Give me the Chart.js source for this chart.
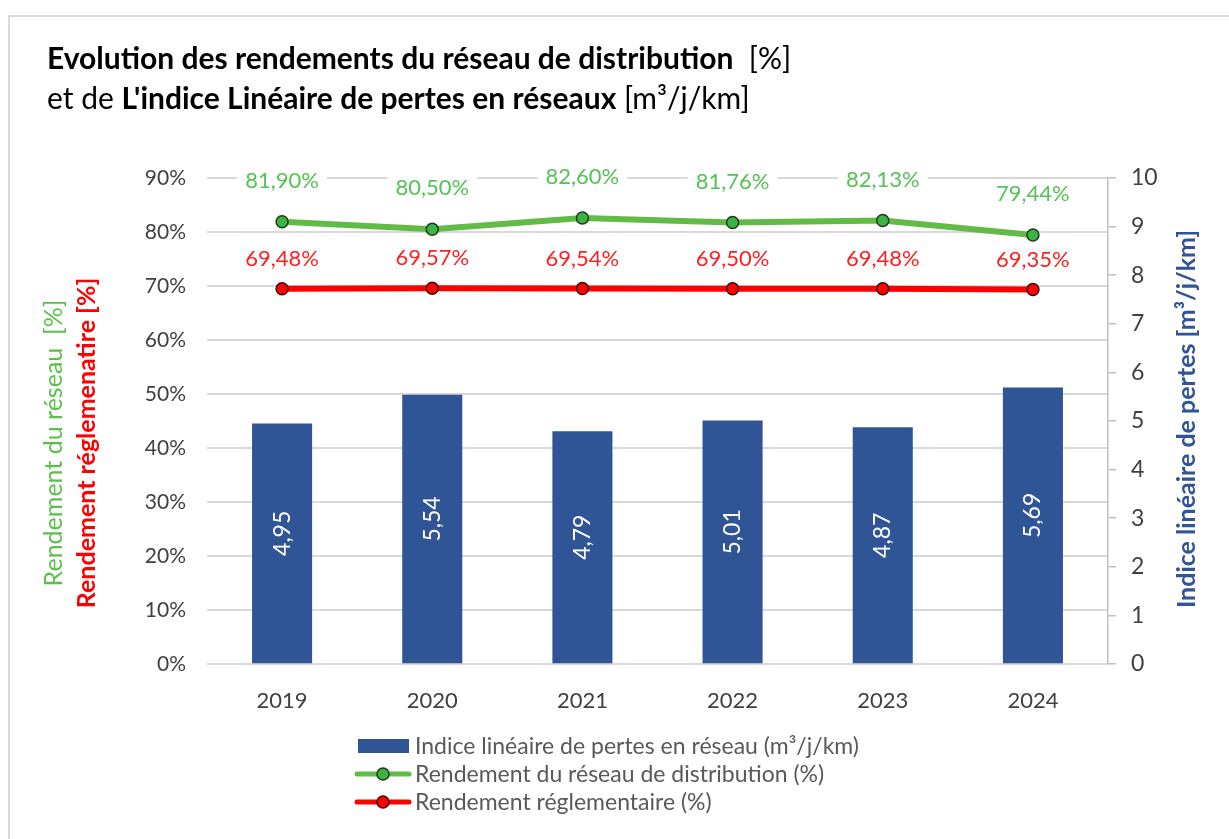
<!DOCTYPE html>
<html>
<head>
<meta charset="utf-8">
<script src="https://cdn.jsdelivr.net/npm/chart.js@4.4.1/dist/chart.umd.min.js"></script>
<style>
html, body { margin: 0; padding: 0; background: #fff; overflow: hidden; }
#wrap { position: relative; width: 1229px; height: 839px; }
#frame { position: absolute; left: 8px; top: 15px; width: 1300px; height: 900px; border: 2px solid #d9d9d9; }
#title { position: absolute; left: 47px; top: 37px; font-family: Lato, sans-serif; font-size: 30px; line-height: 40px; color: #000; white-space: nowrap; }
#title b { font-weight: bold; }
canvas { position: absolute; left: 0; top: 0; }
</style>
</head>
<body>
<div id="wrap">
  <div id="frame"></div>
  <canvas id="chart" width="1229" height="839"></canvas>
  <div id="title">
    <b>Evolution des rendements du réseau de distribution</b>&nbsp; [%]<br>
    et de <b>L'indice Linéaire de pertes en réseaux</b> [m³/j/km]
  </div>
</div>
<script>
// Data
var years = ['2019', '2020', '2021', '2022', '2023', '2024'];
var indicePertes = [4.95, 5.54, 4.79, 5.01, 4.87, 5.69];
var rendementReseau = [81.90, 80.50, 82.60, 81.76, 82.13, 79.44];
var rendementRegl = [69.48, 69.57, 69.54, 69.50, 69.48, 69.35];

var FONT = 'Lato, sans-serif';

function fr(v, d) {
    return v.toFixed(d).replace('.', ',');
}

// Data labels: values above the lines, rotated values inside the bars
var labelsPlugin = {
    id: 'labels',
    afterDatasetsDraw: function(chart) {
        var ctx = chart.ctx;
        ctx.save();
        chart.data.datasets.forEach(function(ds, di) {
            var meta = chart.getDatasetMeta(di);
            meta.data.forEach(function(el, i) {
                var v = ds.data[i];
                if (ds.type === 'bar') {
                    ctx.save();
                    ctx.translate(el.x, (el.y + el.base) / 2 - 10);
                    ctx.rotate(-Math.PI / 2);
                    ctx.font = '23px ' + FONT;
                    ctx.fillStyle = '#fff';
                    ctx.textAlign = 'center';
                    ctx.textBaseline = 'middle';
                    ctx.fillText(fr(v, 2), 0, 0);
                    ctx.restore();
                } else {
                    var txt = fr(v, 2) + '%';
                    ctx.font = '22px ' + FONT;
                    var w = ctx.measureText(txt).width;
                    var y = el.y - ds.labelOffset;
                    ctx.fillStyle = '#fff';
                    ctx.fillRect(el.x - w / 2 - 8, y - 13, w + 16, 26);
                    ctx.fillStyle = ds.labelColor;
                    ctx.textAlign = 'center';
                    ctx.textBaseline = 'middle';
                    ctx.fillText(txt, el.x, y);
                }
            });
        });
        ctx.restore();
    }
};

// Axis titles and legend drawn on the canvas
var decorPlugin = {
    id: 'decor',
    afterDraw: function(chart) {
        var ctx = chart.ctx;
        var midY = 443;
        ctx.save();
        ctx.textAlign = 'center';
        ctx.textBaseline = 'middle';

        ctx.save();
        ctx.translate(54, midY);
        ctx.rotate(-Math.PI / 2);
        ctx.font = '25px ' + FONT;
        ctx.fillStyle = '#5cbf4a';
        ctx.fillText('Rendement du réseau  [%]', 0, 0);
        ctx.restore();

        ctx.save();
        ctx.translate(87, midY);
        ctx.rotate(-Math.PI / 2);
        ctx.font = 'bold 25px ' + FONT;
        ctx.fillStyle = '#ff0000';
        ctx.fillText('Rendement réglemenatire [%]', 0, 0);
        ctx.restore();

        ctx.save();
        ctx.translate(1187, 419);
        ctx.rotate(-Math.PI / 2);
        ctx.font = 'bold 25px ' + FONT;
        ctx.fillStyle = '#2f5597';
        ctx.fillText('Indice linéaire de pertes [m³/j/km]', 0, 0);
        ctx.restore();

        // legend
        var lx = 357, ly = 746, step = 28;
        ctx.textAlign = 'left';
        ctx.font = '23px ' + FONT;
        chart.data.datasets.forEach(function(ds, di) {
            var y = ly + di * step;
            if (ds.type === 'bar') {
                ctx.fillStyle = ds.backgroundColor;
                ctx.fillRect(lx + 1, y - 7, 51, 14);
            } else {
                ctx.strokeStyle = ds.borderColor;
                ctx.lineWidth = 5;
                ctx.lineCap = 'round';
                ctx.beginPath();
                ctx.moveTo(lx, y);
                ctx.lineTo(lx + 52, y);
                ctx.stroke();
                ctx.beginPath();
                ctx.arc(lx + 26, y, 6, 0, Math.PI * 2);
                ctx.fillStyle = ds.pointBackgroundColor;
                ctx.fill();
                ctx.lineWidth = 1.5;
                ctx.strokeStyle = ds.pointBorderColor;
                ctx.stroke();
            }
            ctx.fillStyle = '#595959';
            ctx.fillText(ds.label, lx + 58, y + 1);
        });
        ctx.restore();
    }
};

var ctx = document.getElementById('chart').getContext('2d');
new Chart(ctx, {
    data: {
        labels: years,
        datasets: [{
            type: 'bar',
            label: 'Indice linéaire de pertes en réseau (m³/j/km)',
            data: indicePertes,
            yAxisID: 'y1',
            backgroundColor: '#2f5597',
            categoryPercentage: 1,
            barPercentage: 0.4,
            order: 3
        }, {
            type: 'line',
            label: 'Rendement du réseau de distribution (%)',
            data: rendementReseau,
            yAxisID: 'y',
            borderColor: '#62bb46',
            borderWidth: 6,
            pointRadius: 6,
            pointBackgroundColor: '#3cb443',
            pointBorderColor: '#1e3a1a',
            pointBorderWidth: 1.5,
            labelColor: '#55c255',
            labelOffset: 41,
            tension: 0,
            order: 2
        }, {
            type: 'line',
            label: 'Rendement réglementaire (%)',
            data: rendementRegl,
            yAxisID: 'y',
            borderColor: '#ff0000',
            borderWidth: 6,
            pointRadius: 6,
            pointBackgroundColor: '#ff0000',
            pointBorderColor: '#3a0a0a',
            pointBorderWidth: 1.5,
            labelColor: '#ff1f1f',
            labelOffset: 30,
            tension: 0,
            order: 1
        }]
    },
    options: {
        responsive: false,
        animation: false,
        events: [],
        layout: { padding: { top: 178, left: 0, right: 0, bottom: 0 } },
        plugins: {
            legend: { display: false },
            tooltip: { enabled: false }
        },
        scales: {
            x: {
                grid: { display: false },
                border: { display: false },
                ticks: { color: '#404040', font: { family: FONT, size: 22 }, padding: 16 },
                afterFit: function(s) { s.height = 175; }
            },
            y: {
                position: 'left',
                min: 0,
                max: 90,
                ticks: {
                    stepSize: 10,
                    color: '#404040',
                    font: { family: FONT, size: 21 },
                    padding: 21,
                    callback: function(v) { return v + '%'; }
                },
                grid: { color: '#d9d9d9', lineWidth: 2, drawTicks: false },
                border: { display: false },
                afterFit: function(s) { s.width = 207; }
            },
            y1: {
                position: 'right',
                min: 0,
                max: 10,
                ticks: {
                    stepSize: 1,
                    color: '#404040',
                    font: { family: FONT, size: 23 },
                    padding: 15
                },
                grid: { drawOnChartArea: false, color: '#bfbfbf', tickLength: 8, lineWidth: 1.5 },
                border: { display: true, color: '#bfbfbf', width: 1.5 },
                afterFit: function(s) { s.width = 121; }
            }
        }
    },
    plugins: [labelsPlugin, decorPlugin]
});
</script>
</body>
</html>
